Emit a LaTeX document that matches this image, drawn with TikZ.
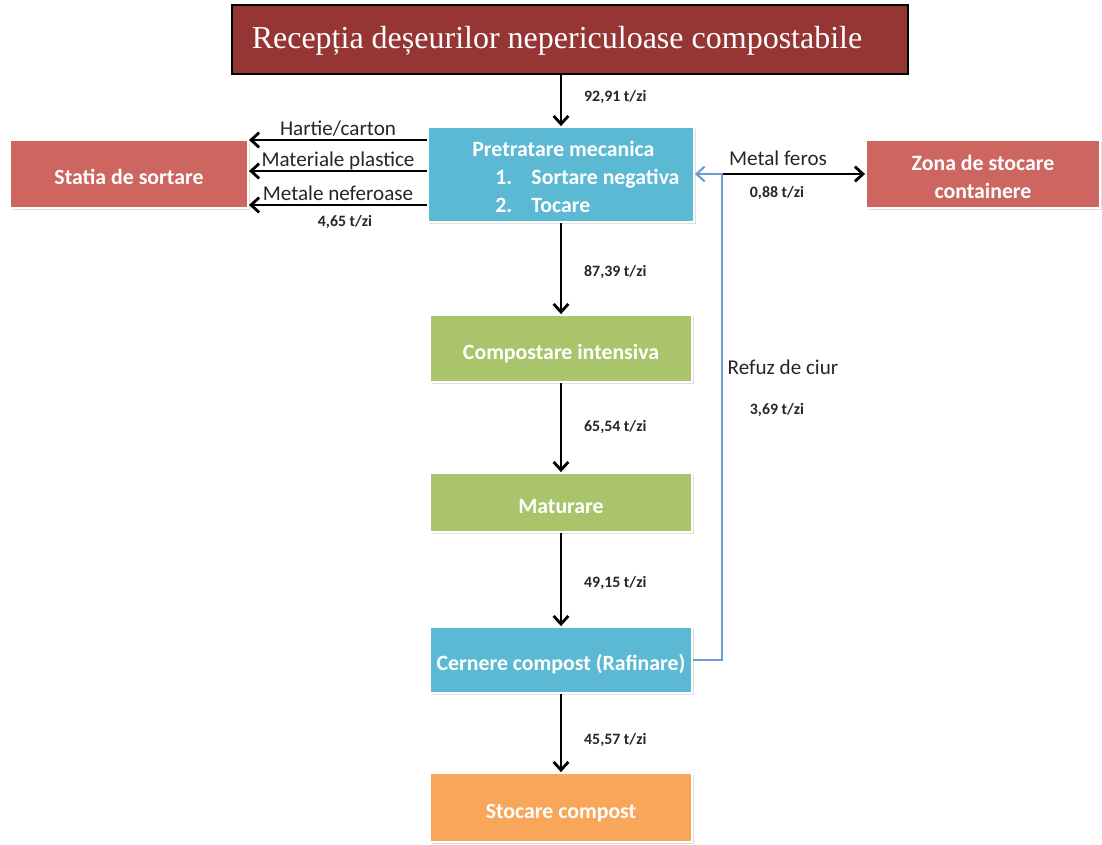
\documentclass[tikz,border=0pt]{standalone}
\usepackage{fontspec}
\setmainfont{Carlito}
\newfontfamily\titlefont{Liberation Serif}
\usepackage{xcolor}
\usetikzlibrary{arrows.meta,shadows}
\definecolor{titlered}{RGB}{150,54,52}
\definecolor{boxred}{RGB}{205,102,96}
\definecolor{boxcyan}{RGB}{91,185,211}
\definecolor{boxgreen}{RGB}{170,196,108}
\definecolor{boxorange}{RGB}{248,166,90}
\definecolor{refuzblue}{RGB}{110,155,210}

\begin{document}
\begin{tikzpicture}[x=0.01cm, y=-0.01cm,
    stage/.style={draw=white, line width=0.5pt, inner sep=0pt, align=center,
      text=white, font=\fontsize{6.2}{7.7}\selectfont\bfseries,
      drop shadow={shadow xshift=0.5pt, shadow yshift=-0.7pt, opacity=0.25}},
    oneline/.style={text height=6pt, text depth=0pt},
    flow/.style={draw=black, line width=0.8pt,
      -{Straight Barb[length=2.3pt,width=4.2pt,line width=0.8pt]}},
    refuz/.style={draw=refuzblue, line width=0.6pt,
      -{Straight Barb[length=2.3pt,width=4.2pt,line width=0.6pt]}},
    rate/.style={font=\fontsize{4.5}{5}\selectfont\bfseries, text=black!85, inner sep=0pt},
    material/.style={font=\fontsize{6}{7}\selectfont, text=black!85, inner sep=1pt, text depth=0pt}]
    \useasboundingbox (0,0) rectangle (1102,845);
    % boxes
    \node[draw=black, line width=0.4pt, fill=titlered, text=white, inner sep=0pt,
      minimum width=6.76cm, minimum height=0.69cm, text height=6.8pt, text depth=1.4pt,
      font=\titlefont\fontsize{9.1}{10}\selectfont] (title) at (570,39.5)
      {Recepția deșeurilor nepericuloase compostabile\hspace*{7.4pt}};
    \node[stage, fill=boxcyan, minimum width=2.66cm, minimum height=0.95cm, align=left,
      font=\fontsize{6.2}{8}\selectfont\bfseries] (pre) at (561,174.5)
      {\rule{0pt}{5.7pt}\hspace*{8.5pt}Pretratare mecanica\\
       \hspace*{8.5pt}\hspace*{6.5pt}\makebox[10.3pt][l]{1.}Sortare negativa\\
       \hspace*{8.5pt}\hspace*{6.5pt}\makebox[10.3pt][l]{2.}Tocare};
    \node[stage, oneline, fill=boxred, minimum width=2.38cm, minimum height=0.68cm] (statia) at (129,174) {Statia de sortare};
    \node[stage, fill=boxred, minimum width=2.34cm, minimum height=0.68cm] (zona) at (983,174) {\rule{0pt}{6pt}Zona de stocare\\containere};
    \node[stage, oneline, fill=boxgreen, minimum width=2.62cm, minimum height=0.67cm] (comp) at (561,348.5) {Compostare intensiva};
    \node[stage, oneline, fill=boxgreen, minimum width=2.62cm, minimum height=0.59cm] (mat) at (561,502.5) {Maturare};
    \node[stage, oneline, fill=boxcyan, minimum width=2.62cm, minimum height=0.66cm] (cern) at (561,660) {Cernere compost (Rafinare)};
    \node[stage, oneline, fill=boxorange, minimum width=2.62cm, minimum height=0.69cm] (stoc) at (561,807.5) {Stocare compost};
    % main line
    \draw[flow] (pre.north |- title.south) -- (pre.north) node[rate, midway, right=6.2pt, yshift=1pt] {92,91 t/zi};
    \draw[flow] (pre.south) -- (comp.north) node[rate, midway, right=6.2pt, yshift=-1pt] {87,39 t/zi};
    \draw[flow] (comp.south) -- (mat.north) node[rate, midway, right=6.2pt] {65,54 t/zi};
    \draw[flow] (mat.south) -- (cern.north) node[rate, midway, right=6.2pt, yshift=-1pt] {49,15 t/zi};
    \draw[flow] (cern.south) -- (stoc.north) node[rate, midway, right=6.2pt, yshift=-2pt] {45,57 t/zi};
    % sorted fractions
    \coordinate (y1) at (0,140);
    \coordinate (y2) at (0,171);
    \coordinate (y3) at (0,205);
    \draw[flow] (pre.west |- y1) -- (statia.east |- y1) node[material, midway, above] {Hartie/carton};
    \draw[flow] (pre.west |- y2) -- (statia.east |- y2) node[material, midway, above] {Materiale plastice};
    \draw[flow] (pre.west |- y3) -- (statia.east |- y3) node[material, midway, above] {Metale neferoase};
    \node[rate] (r465) at (345,222) {4,65 t/zi};
    % metal and screen reject
    \coordinate (jct) at (722,174);
    \draw[flow] (jct) -- (zona.west |- jct);
    \node[material] (feros) at (778,158) {Metal feros};
    \node[rate] (r088) at (777,193) {0,88 t/zi};
    \draw[refuz] (cern.east) -| (jct) -- (pre.east |- jct);
    \node[material] (ciur) at (783,367) {Refuz de ciur};
    \node[rate] (r369) at (777,410) {3,69 t/zi};
  \end{tikzpicture}
\end{document}
